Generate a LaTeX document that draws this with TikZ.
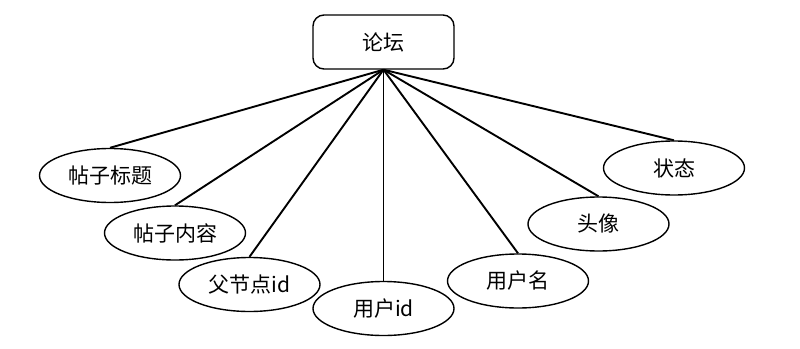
\documentclass[tikz,border=0pt]{standalone}
\usepackage{fontspec}
\setmainfont{Noto Sans CJK SC}
\usetikzlibrary{shapes.geometric}
\begin{document}
\begin{tikzpicture}[x=1pt,y=-1pt,
  attr/.style={draw, line width=1.4pt, ellipse, minimum width=141pt, minimum height=54pt, inner sep=0pt, font=\fontsize{21}{25}\selectfont},
  entity/.style={draw, line width=1.4pt, rounded corners=11pt, minimum width=141pt, minimum height=54pt, inner sep=0pt, font=\fontsize{21}{25}\selectfont},
  link/.style={line width=1.9pt}]
\useasboundingbox (0,0) rectangle (800,348);
\node[entity] (root) at (383.5,42) {论坛};
\node[attr] (a1) at (110,175.5) {帖子标题};
\node[attr] (a2) at (175,233) {帖子内容};
\node[attr] (a3) at (249.5,284.5) {父节点id};
\node[attr] (a4) at (383.5,308.5) {用户id};
\node[attr] (a5) at (518,281) {用户名};
\node[attr] (a6) at (598.5,224) {头像};
\node[attr] (a7) at (674,168) {状态};
\foreach \n in {a1,a2,a3,a4,a5,a6,a7}
  \draw[link] (root.south) -- (\n.north);
\end{tikzpicture}
\end{document}
